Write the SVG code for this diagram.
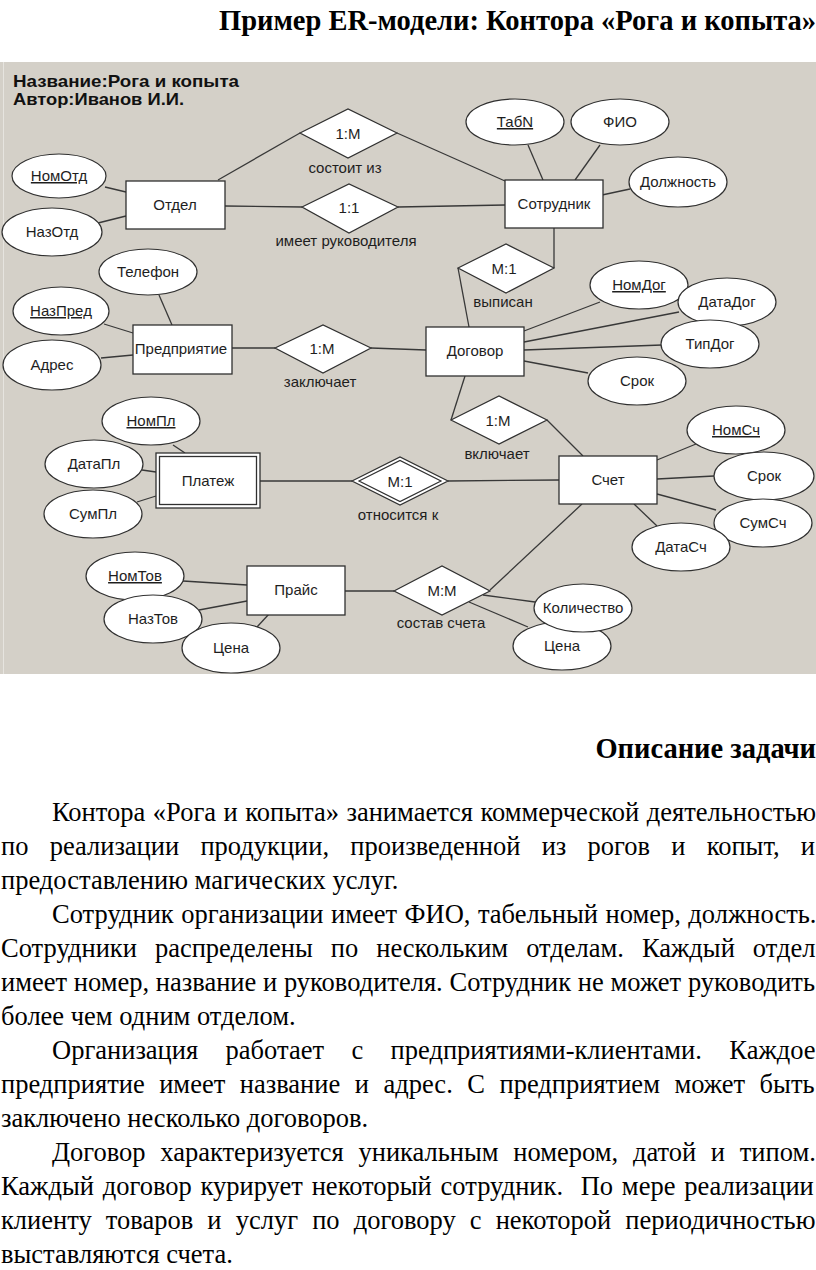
<svg xmlns="http://www.w3.org/2000/svg" width="816" height="1270" viewBox="0 0 816 1270">
<style>
.ent{fill:#fff;stroke:#303030;stroke-width:1.3}
.att{fill:#fff;stroke:#303030;stroke-width:1.2}
.rel{fill:#fff;stroke:#303030;stroke-width:1.2}
.con line{stroke:#383838;stroke-width:1.3}
.t{font-family:"Liberation Sans",Arial,sans-serif;font-size:15px;fill:#1e1e1e;text-anchor:middle}
.u{text-decoration:underline}
.hd{font-family:"Liberation Sans",Arial,sans-serif;font-size:17px;font-weight:bold;fill:#111}
.body{font-family:"Liberation Serif","Times New Roman",serif;font-size:26.5px;fill:#000}
.ttl{font-family:"Liberation Serif","Times New Roman",serif;font-size:28.5px;font-weight:bold;fill:#000}
</style>
<rect x="0" y="0" width="816" height="1270" fill="#fff"/>
<text class="ttl" x="816" y="30" text-anchor="end">Пример ER-модели: Контора «Рога и копыта»</text>
<rect x="0" y="62" width="816" height="612" fill="#d4d0c8"/>
<line x1="3.5" y1="62" x2="3.5" y2="674" stroke="#e6e4df" stroke-width="1"/>
<text class="hd" x="13" y="87" textLength="226" lengthAdjust="spacingAndGlyphs">Название:Рога и копыта</text>
<text class="hd" x="13" y="105" textLength="171" lengthAdjust="spacingAndGlyphs">Автор:Иванов И.И.</text>
<g class="con" id="connectors">
<line x1="218" y1="180" x2="300" y2="133"/>
<line x1="397" y1="133" x2="505" y2="181"/>
<line x1="225" y1="206" x2="302" y2="207"/>
<line x1="398" y1="207" x2="505" y2="205"/>
<line x1="105" y1="187" x2="126" y2="192"/>
<line x1="98" y1="223" x2="126" y2="216"/>
<line x1="528" y1="145" x2="543" y2="180"/>
<line x1="600" y1="145" x2="575" y2="180"/>
<line x1="630" y1="189" x2="602" y2="195"/>
<line x1="554" y1="228" x2="554" y2="268"/>
<line x1="458" y1="268" x2="469" y2="327"/>
<line x1="600" y1="302" x2="524" y2="331"/>
<line x1="679" y1="312" x2="524" y2="342"/>
<line x1="662" y1="345" x2="524" y2="350"/>
<line x1="588" y1="373" x2="524" y2="361"/>
<line x1="371" y1="348" x2="426" y2="350"/>
<line x1="232" y1="348" x2="275" y2="348"/>
<line x1="159" y1="295" x2="172" y2="325"/>
<line x1="104" y1="324" x2="133" y2="333"/>
<line x1="101" y1="358" x2="133" y2="355"/>
<line x1="465" y1="376" x2="451" y2="420"/>
<line x1="547" y1="420" x2="583" y2="456"/>
<line x1="173" y1="445" x2="185" y2="453"/>
<line x1="142" y1="470" x2="156" y2="472"/>
<line x1="137" y1="502" x2="156" y2="496"/>
<line x1="260" y1="481" x2="352" y2="481"/>
<line x1="448" y1="481" x2="559" y2="480"/>
<line x1="657" y1="460" x2="696" y2="444"/>
<line x1="657" y1="479" x2="714" y2="476"/>
<line x1="657" y1="494" x2="716" y2="510"/>
<line x1="634" y1="504" x2="657" y2="526"/>
<line x1="582" y1="504" x2="490" y2="590"/>
<line x1="483" y1="595" x2="535" y2="602"/>
<line x1="469" y1="602" x2="528" y2="627"/>
<line x1="345" y1="591" x2="394" y2="591"/>
<line x1="183" y1="581" x2="247" y2="585"/>
<line x1="199" y1="610" x2="247" y2="601"/>
<line x1="257" y1="627" x2="269" y2="614"/>
</g>
<g id="otdel"><rect class="ent" x="126" y="181" width="99" height="48"/><text class="t" x="175" y="210">Отдел</text></g>
<g id="sotrudnik"><rect class="ent" x="505" y="180" width="98" height="48"/><text class="t" x="554" y="209">Сотрудник</text></g>
<g id="predpriyatie"><rect class="ent" x="133" y="325" width="99" height="49"/><text class="t" x="181" y="354">Предприятие</text></g>
<g id="dogovor"><rect class="ent" x="426" y="327" width="98" height="49"/><text class="t" x="475" y="356">Договор</text></g>
<g id="platezh"><rect class="ent" x="156" y="453" width="104" height="55"/><rect class="ent" x="159.5" y="456.5" width="97" height="48"/><text class="t" x="208" y="486">Платеж</text></g>
<g id="schet"><rect class="ent" x="559" y="456" width="98" height="48"/><text class="t" x="608" y="485">Счет</text></g>
<g id="prais"><rect class="ent" x="247" y="566" width="98" height="49"/><text class="t" x="296" y="595">Прайс</text></g>

<g id="rel-sostoit"><polygon class="rel" points="300,133 348,109 397,133 348,158"/><text class="t" x="348" y="139">1:M</text><text class="t" x="345" y="173">состоит из</text></g>
<g id="rel-rukovod"><polygon class="rel" points="302,207 349,184 398,207 349,233"/><text class="t" x="349" y="213">1:1</text><text class="t" x="346" y="246">имеет руководителя</text></g>
<g id="rel-vypisan"><polygon class="rel" points="458,268 506,244 554,268 506,293"/><text class="t" x="504" y="274">M:1</text><text class="t" x="503" y="307">выписан</text></g>
<g id="rel-zakl"><polygon class="rel" points="275,348 323,325 371,348 323,373"/><text class="t" x="322" y="354">1:M</text><text class="t" x="320" y="387">заключает</text></g>
<g id="rel-vkl"><polygon class="rel" points="451,420 499,396 547,420 499,444"/><text class="t" x="498" y="426">1:M</text><text class="t" x="497" y="459">включает</text></g>
<g id="rel-otn"><polygon class="rel" points="352,481 400,457 448,481 400,505"/><polygon class="rel" points="359,481 400,460.5 441,481 400,501.5"/><text class="t" x="400" y="487">M:1</text><text class="t" x="398" y="520">относится к</text></g>
<g id="rel-sostav"><polygon class="rel" points="394,591 442,566 490,591 442,615"/><text class="t" x="442" y="596">M:M</text><text class="t" x="441" y="628">состав счета</text></g>

<g id="a-nomotd"><ellipse class="att" cx="59" cy="176" rx="47" ry="22"/><text class="t u" x="59" y="181">НомОтд</text></g>
<g id="a-nazotd"><ellipse class="att" cx="52" cy="232" rx="50" ry="24"/><text class="t" x="52" y="237">НазОтд</text></g>
<g id="a-telefon"><ellipse class="att" cx="148" cy="272" rx="49" ry="23"/><text class="t" x="148" y="277">Телефон</text></g>
<g id="a-nazpred"><ellipse class="att" cx="61" cy="311" rx="48" ry="24"/><text class="t u" x="61" y="316">НазПред</text></g>
<g id="a-adres"><ellipse class="att" cx="52" cy="365" rx="49" ry="25"/><text class="t" x="52" y="370">Адрес</text></g>
<g id="a-tabn"><ellipse class="att" cx="515" cy="122" rx="49" ry="23"/><text class="t u" x="515" y="127">ТабN</text></g>
<g id="a-fio"><ellipse class="att" cx="620" cy="122" rx="49" ry="23"/><text class="t" x="620" y="127">ФИО</text></g>
<g id="a-dolzh"><ellipse class="att" cx="678" cy="182" rx="49" ry="25"/><text class="t" x="678" y="187">Должность</text></g>
<g id="a-nomdog"><ellipse class="att" cx="639" cy="285" rx="49" ry="24"/><text class="t u" x="639" y="290">НомДог</text></g>
<g id="a-datadog"><ellipse class="att" cx="727" cy="302" rx="49" ry="24"/><text class="t" x="727" y="307">ДатаДог</text></g>
<g id="a-tipdog"><ellipse class="att" cx="710" cy="344" rx="49" ry="24"/><text class="t" x="710" y="349">ТипДог</text></g>
<g id="a-srokdog"><ellipse class="att" cx="637" cy="381" rx="49" ry="24"/><text class="t" x="637" y="386">Срок</text></g>
<g id="a-nompl"><ellipse class="att" cx="151" cy="421" rx="49" ry="24"/><text class="t u" x="151" y="426">НомПл</text></g>
<g id="a-datapl"><ellipse class="att" cx="94" cy="464" rx="49" ry="24"/><text class="t" x="94" y="469">ДатаПл</text></g>
<g id="a-sumpl"><ellipse class="att" cx="93" cy="514" rx="49" ry="24"/><text class="t" x="93" y="519">СумПл</text></g>
<g id="a-nomsch"><ellipse class="att" cx="736" cy="430" rx="49" ry="24"/><text class="t u" x="736" y="435">НомСч</text></g>
<g id="a-sroksch"><ellipse class="att" cx="764" cy="476" rx="50" ry="24"/><text class="t" x="764" y="481">Срок</text></g>
<g id="a-sumsch"><ellipse class="att" cx="763" cy="523" rx="49" ry="24"/><text class="t" x="763" y="528">СумСч</text></g>
<g id="a-datasch"><ellipse class="att" cx="681" cy="547" rx="49" ry="24"/><text class="t" x="681" y="552">ДатаСч</text></g>
<g id="a-nomtov"><ellipse class="att" cx="135" cy="576" rx="49" ry="24"/><text class="t u" x="135" y="581">НомТов</text></g>
<g id="a-naztov"><ellipse class="att" cx="153" cy="619" rx="49" ry="24"/><text class="t" x="153" y="624">НазТов</text></g>
<g id="a-cena1"><ellipse class="att" cx="231" cy="648" rx="49" ry="25"/><text class="t" x="231" y="653">Цена</text></g>
<g id="a-cena2"><ellipse class="att" cx="562" cy="646" rx="49" ry="24"/><text class="t" x="562" y="651">Цена</text></g>
<g id="a-kolvo"><ellipse class="att" cx="583" cy="608" rx="49" ry="24"/><text class="t" x="583" y="613">Количество</text></g>

<text class="ttl" x="816" y="758" text-anchor="end" font-size="24.5">Описание задачи</text>
<g class="body">
<text x="52" y="821" word-spacing="0.9">Контора «Рога и копыта» занимается коммерческой деятельностью</text>
<text x="1" y="855" word-spacing="14.6">по реализации продукции, произведенной из рогов и копыт, и</text>
<text x="1" y="889">предоставлению магических услуг.</text>
<text x="52" y="923" word-spacing="0.9">Сотрудник организации имеет ФИО, табельный номер, должность.</text>
<text x="1" y="957" word-spacing="11.4">Сотрудники распределены по нескольким отделам. Каждый отдел</text>
<text x="1" y="991" word-spacing="0.1">имеет номер, название и руководителя. Сотрудник не может руководить</text>
<text x="1" y="1025">более чем одним отделом.</text>
<text x="52" y="1059" word-spacing="20.8">Организация работает с предприятиями-клиентами. Каждое</text>
<text x="1" y="1093" word-spacing="7.9">предприятие имеет название и адрес. С предприятием может быть</text>
<text x="1" y="1127">заключено несколько договоров.</text>
<text x="52" y="1161" word-spacing="8.1">Договор характеризуется уникальным номером, датой и типом.</text>
<text x="1" y="1195" word-spacing="2.2" xml:space="preserve">Каждый договор курирует некоторый сотрудник.  По мере реализации</text>
<text x="1" y="1229" word-spacing="7.5">клиенту товаров и услуг по договору с некоторой периодичностью</text>
<text x="1" y="1263">выставляются счета.</text>
</g>
</svg>
